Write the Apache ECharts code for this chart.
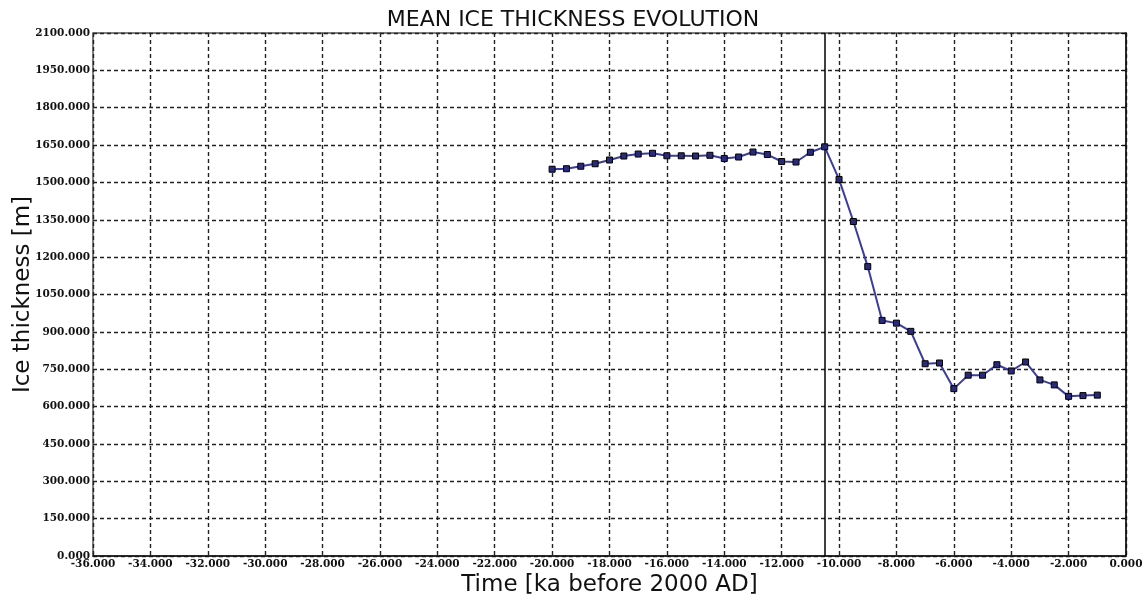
<!DOCTYPE html>
<html><head><meta charset="utf-8">
<script src="https://cdn.jsdelivr.net/npm/echarts@6/dist/echarts.min.js"></script>
<style>html,body{margin:0;padding:0;background:#fff}#c{width:1146px;height:599px}</style>
</head><body><div id="c"></div>
<script>
const timeKa = [-20,-19.5,-19,-18.5,-18,-17.5,-17,-16.5,-16,-15.5,-15,-14.5,-14,-13.5,-13,-12.5,-12,-11.5,-11,-10.5,-10,-9.5,-9,-8.5,-8,-7.5,-7,-6.5,-6,-5.5,-5,-4.5,-4,-3.5,-3,-2.5,-2,-1.5,-1];
const thickness = [1553,1555,1565,1575,1590,1606,1614,1617,1607,1607,1606,1609,1596,1602,1622,1612,1584,1582,1621,1643,1512,1343,1162,946,935,902,772,775,672,726,726,768,743,779,707,687,641,644,646];
const markerTime = [-10.5];
const titleText = 'MEAN ICE THICKNESS EVOLUTION';
const xName = 'Time [ka before 2000 AD]';
const yName = 'Ice thickness [m]';

const chart = echarts.init(document.getElementById('c'));
const gridLine = {show:true, lineStyle:{color:'#222', type:[4,3], width:1.4}};
chart.setOption({
  animation:false,
  title:{text:titleText, left:'center', top:4, textStyle:{fontFamily:'DejaVu Sans', fontWeight:'normal', fontSize:22, color:'#111'}},
  grid:{left:93, right:20, top:33, bottom:43, outerBoundsMode:'none', containLabel:false, show:true, borderColor:'#555', borderWidth:1.5},
  xAxis:{type:'value', min:-36, max:0, interval:2,
    name:xName, nameLocation:'middle', nameGap:18, nameMoveOverlap:false,
    nameTextStyle:{fontFamily:'DejaVu Sans', fontSize:23, color:'#111'},
    axisLine:{onZero:false, lineStyle:{color:'#111', width:1.5}},
    axisTick:{show:false},
    axisLabel:{formatter:v=>v.toFixed(3), fontFamily:'DejaVu Serif', fontWeight:'bold', fontSize:10.5, color:'#111', margin:3, showMaxLabel:true},
    splitLine:gridLine},
  yAxis:{type:'value', min:0, max:2100, interval:150,
    name:yName, nameLocation:'middle', nameGap:58, nameMoveOverlap:false,
    nameTextStyle:{fontFamily:'DejaVu Sans', fontSize:23, color:'#111'},
    axisLine:{show:true, lineStyle:{color:'#111', width:1.5}},
    axisTick:{show:true, length:5, lineStyle:{color:'#111'}},
    axisLabel:{formatter:v=>v.toFixed(3), fontFamily:'DejaVu Serif', fontWeight:'bold', fontSize:10.5, color:'#111', margin:3},
    splitLine:gridLine},
  series:[{
    type:'line',
    data:timeKa.map((t,i)=>[t,thickness[i]]),
    symbol:'rect', symbolSize:6,
    itemStyle:{color:'#2a2a7a', borderColor:'#000', borderWidth:1},
    lineStyle:{color:'#3c3c9c', width:2},
    markLine:{silent:true, symbol:'none', label:{show:false},
      lineStyle:{color:'#000', type:'solid', width:1.5},
      data:markerTime.map(v=>({xAxis:v}))},
    z:5
  }]
});
</script></body></html>
